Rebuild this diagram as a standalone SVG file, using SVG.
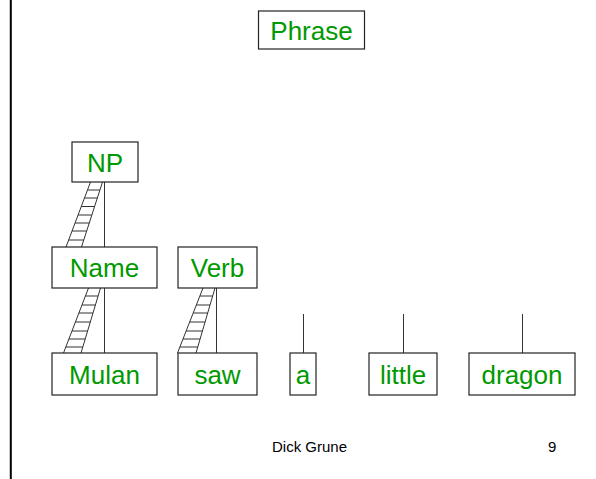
<svg xmlns="http://www.w3.org/2000/svg" width="596" height="479" viewBox="0 0 596 479">
<style>
.box{fill:#fff;stroke:#222;stroke-width:1.2}
.lbl{font-family:"Liberation Sans",Arial,sans-serif;font-size:26px;fill:#009900;text-anchor:middle}
.ft{font-family:"Liberation Sans",Arial,sans-serif;font-size:15px;fill:#000}
.ln{stroke:#333;stroke-width:1;fill:none}
</style>
<rect width="596" height="479" fill="#fff"/>
<line x1="10.8" y1="0" x2="10.8" y2="479" stroke="#000" stroke-width="2"/>
<g id="connectors">
<line class="ln" x1="104.5" y1="182" x2="104.5" y2="247"/>
<line class="ln" x1="104.5" y1="288" x2="104.5" y2="353"/>
<line class="ln" x1="216.5" y1="288" x2="216.5" y2="353"/>
<line class="ln" x1="303.5" y1="314" x2="303.5" y2="353"/>
<line class="ln" x1="403.5" y1="314" x2="403.5" y2="353"/>
<line class="ln" x1="522.5" y1="314" x2="522.5" y2="353"/>
<g id="ladder-np-name">
<path class="ln" d="M90.5 182L66 247M102.5 182L81.5 247M87.5 190H99.9M84.5 198H97.3M81.3 206.5H94.6M78.1 215H91.8M75 223H89.3M72 231H86.7M68.6 240H83.8"/>
</g>
<g id="ladder-name-mulan">
<path class="ln" d="M88.5 288L63.5 353M100.5 288L81 353M85.4 296H98.1M82 305H95.4M78.9 313H93M75.4 322H90.3M72 331H87.6M68.9 339H85.2M65.8 347H82.8"/>
</g>
<g id="ladder-verb-saw">
<path class="ln" d="M203 288L177.5 353M215 288L196 353M199.9 296H212.7M196.3 305H210M193.2 313H207.7M189.7 322H205.1M186.1 331H202.4M183 339H200.1M179.9 347H197.8"/>
</g>
</g>
<g id="phrase"><rect class="box" x="258.5" y="11" width="106" height="38"/><text class="lbl" x="311.5" y="39.5">Phrase</text></g>
<g id="np"><rect class="box" x="72" y="142" width="66" height="40"/><text class="lbl" x="105" y="171.5">NP</text></g>
<g id="name"><rect class="box" x="52" y="247" width="105" height="41"/><text class="lbl" x="104.5" y="277">Name</text></g>
<g id="verb"><rect class="box" x="178" y="247" width="79" height="41"/><text class="lbl" x="217.5" y="277">Verb</text></g>
<g id="mulan"><rect class="box" x="52" y="353" width="105" height="42"/><text class="lbl" x="104.5" y="383.5">Mulan</text></g>
<g id="saw"><rect class="box" x="178" y="353" width="79" height="42"/><text class="lbl" x="217.5" y="383.5">saw</text></g>
<g id="a"><rect class="box" x="290" y="353" width="26" height="42"/><text class="lbl" x="303" y="383.5">a</text></g>
<g id="little"><rect class="box" x="369" y="353" width="68" height="42"/><text class="lbl" x="403" y="383.5">little</text></g>
<g id="dragon"><rect class="box" x="469" y="353" width="106" height="42"/><text class="lbl" x="522" y="383.5">dragon</text></g>
<text class="ft" x="272" y="452.3">Dick Grune</text>
<text class="ft" x="548" y="452.3">9</text>
</svg>
